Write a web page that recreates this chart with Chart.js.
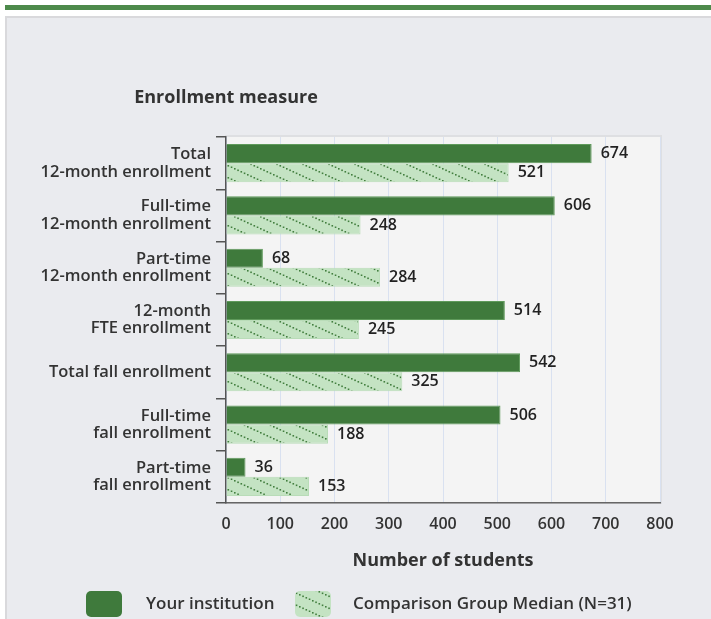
<!DOCTYPE html>
<html><head><meta charset="utf-8">
<script src="https://cdn.jsdelivr.net/npm/chart.js@4/dist/chart.umd.min.js"></script>
<style>
html,body{margin:0;padding:0;background:#fff;width:711px;height:619px;overflow:hidden}
#stripe{position:absolute;left:5px;top:5px;width:706px;height:5px;background:#4d8a4b}
#card{position:absolute;left:5px;top:16px;width:720px;height:620px;background:#eaebef;border:2px solid #d9d9dc;box-sizing:border-box}
#wrap{position:absolute;left:0;top:0;width:711px;height:619px}
</style></head><body>
<div id="stripe"></div><div id="card"></div>
<div id="wrap"><canvas id="c"></canvas></div>
<script>
const categories = [
  ["Total", "12-month enrollment"],
  ["Full-time", "12-month enrollment"],
  ["Part-time", "12-month enrollment"],
  ["12-month", "FTE enrollment"],
  "Total fall enrollment",
  ["Full-time", "fall enrollment"],
  ["Part-time", "fall enrollment"]
];
const yourInstitution = [674, 606, 68, 514, 542, 506, 36];
const comparisonMedian = [521, 248, 284, 245, 325, 188, 153];
const xTickValues = [0, 100, 200, 300, 400, 500, 600, 700, 800];
const seriesNames = ["Your institution", "Comparison Group Median (N=31)"];
const yAxisTitle = "Enrollment measure";
const xAxisTitle = "Number of students";

const FONT = "'Open Sans', 'Liberation Sans', sans-serif";
const DARK = '#3f7a3c';
const LIGHT = '#c4e3c3';

function makePattern() {
  const t = document.createElement('canvas');
  t.width = 26; t.height = 12;
  const g = t.getContext('2d');
  g.fillStyle = LIGHT; g.fillRect(0, 0, 26, 12);
  g.fillStyle = '#437f40';
  for (let i = 0; i < 26; i += 3.25) {
    g.fillRect(i, i * 12 / 26, 1.6, 1.6);
  }
  return g.createPattern(t, 'repeat');
}
const hatch = makePattern();

function roundBox(ctx, x, y, w, h, r) {
  ctx.beginPath();
  ctx.moveTo(x + r, y);
  ctx.arcTo(x + w, y, x + w, y + h, r);
  ctx.arcTo(x + w, y + h, x, y + h, r);
  ctx.arcTo(x, y + h, x, y, r);
  ctx.arcTo(x, y, x + w, y, r);
  ctx.closePath();
}

const bgPlugin = {
  id: 'bg',
  beforeDraw(chart) {
    const {ctx, chartArea: a} = chart;
    ctx.save();
    ctx.fillStyle = '#f4f4f4';
    ctx.fillRect(a.left, a.top, a.right - a.left, a.bottom - a.top);
    ctx.strokeStyle = '#dedfe2';
    ctx.lineWidth = 2;
    ctx.strokeRect(a.left, a.top - 1, a.right - a.left + 1, a.bottom - a.top + 1);
    ctx.restore();
  }
};

const valuePlugin = {
  id: 'values',
  afterDatasetsDraw(chart) {
    const {ctx} = chart;
    ctx.save();
    ctx.font = `600 16px ${FONT}`;
    ctx.fillStyle = '#222';
    ctx.textBaseline = 'middle';
    ctx.textAlign = 'left';
    chart.data.datasets.forEach((ds, di) => {
      chart.getDatasetMeta(di).data.forEach((bar, i) => {
        ctx.fillText(String(ds.data[i]), bar.x + 9, bar.y);
      });
    });
    ctx.restore();
  }
};

const textPlugin = {
  id: 'texts',
  afterDraw(chart) {
    const {ctx, chartArea: a} = chart;
    ctx.save();
    ctx.fillStyle = '#333';
    ctx.textBaseline = 'middle';
    ctx.textAlign = 'center';
    ctx.font = `700 18px ${FONT}`;
    ctx.fillText(yAxisTitle, chart.scales.y.right, 98);
    ctx.fillText(xAxisTitle, (a.left + a.right) / 2, 561);
    // legend
    ctx.font = `600 17px ${FONT}`;
    ctx.textAlign = 'left';
    const ly = 604, bw = 36, bh = 26;
    roundBox(ctx, 86, ly - bh / 2, bw, bh, 5);
    ctx.fillStyle = DARK; ctx.fill();
    ctx.fillStyle = '#333';
    ctx.fillText(seriesNames[0], 146, ly);
    roundBox(ctx, 295, ly - bh / 2, bw, bh, 5);
    ctx.fillStyle = hatch; ctx.fill();
    ctx.fillStyle = '#333';
    ctx.fillText(seriesNames[1], 353, ly);
    ctx.restore();
  }
};

new Chart(document.getElementById('c'), {
  type: 'bar',
  data: {
    labels: categories,
    datasets: [
      {label: seriesNames[0], data: yourInstitution, backgroundColor: DARK, borderColor: '#5f9a5b', borderWidth: 1, barPercentage: 1, categoryPercentage: 0.73},
      {label: seriesNames[1], data: comparisonMedian, backgroundColor: hatch, borderColor: '#b9dcb8', borderWidth: 1, barPercentage: 1, categoryPercentage: 0.73}
    ]
  },
  options: {
    indexAxis: 'y',
    responsive: true,
    maintainAspectRatio: false,
    animation: false,
    layout: {padding: {top: 137, right: 51, left: 0, bottom: 0}},
    plugins: {legend: {display: false}, tooltip: {enabled: false}},
    scales: {
      x: {
        min: 0, max: 800,
        afterBuildTicks(s) { s.ticks = xTickValues.map(v => ({value: v})); },
        afterFit(s) { s.height = 116; },
        ticks: {font: {family: FONT, size: 16, weight: 600}, color: '#333', padding: 12},
        grid: {color: '#d9e1f0', drawTicks: false, lineWidth: 1},
        border: {display: true, color: '#666', width: 1.5}
      },
      y: {
        afterFit(s) { s.width = 226; },
        ticks: {font: {family: FONT, size: 16.5, weight: 600, lineHeight: 1.05}, color: '#333', padding: 5},
        grid: {drawOnChartArea: false, drawTicks: true, tickLength: 10, color: '#555', lineWidth: 1.5},
        border: {display: true, color: '#555', width: 1.5}
      }
    }
  },
  plugins: [bgPlugin, valuePlugin, textPlugin]
});
</script>
</body></html>
